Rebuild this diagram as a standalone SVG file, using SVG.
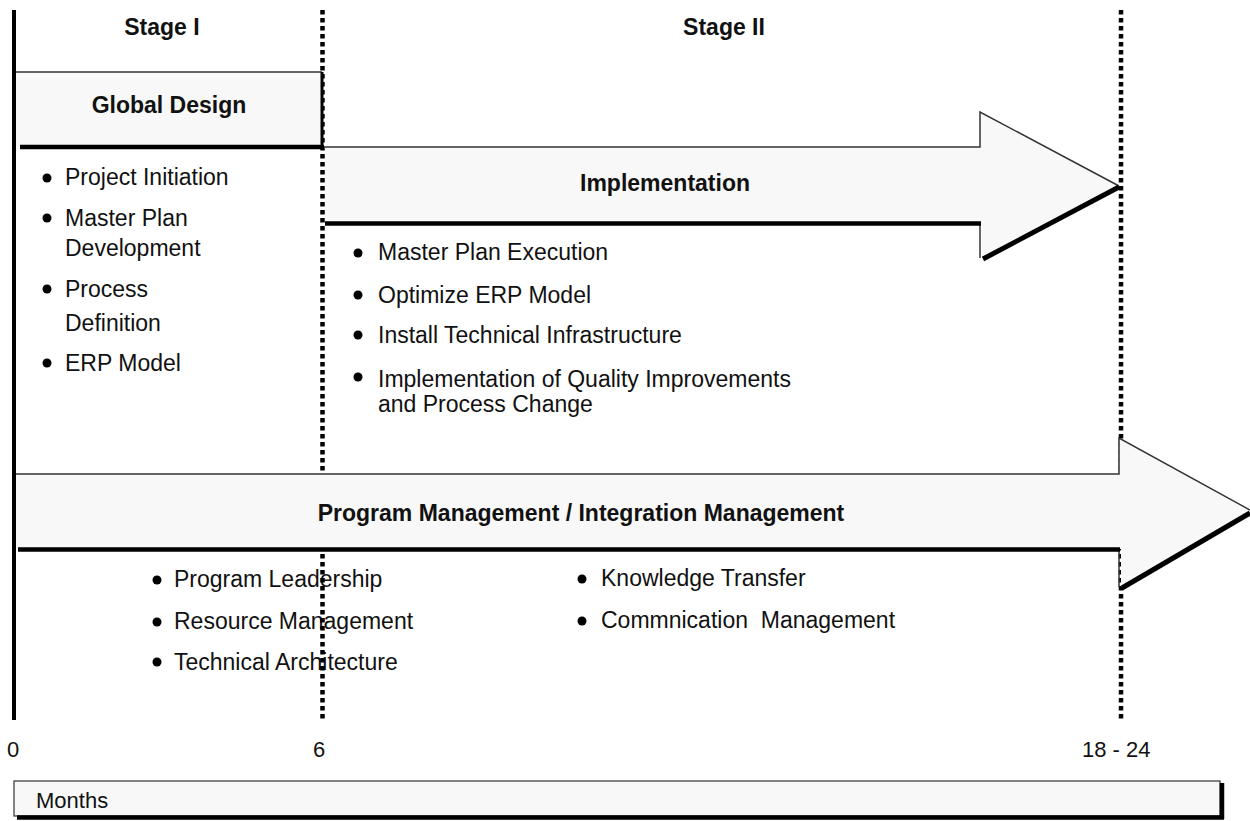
<svg xmlns="http://www.w3.org/2000/svg" width="1250" height="821" viewBox="0 0 1250 821">
  <style>
    .h { font-family: "Liberation Sans", Arial, sans-serif; font-weight: bold; font-size: 23px; fill: #111; }
    .t { font-family: "Liberation Sans", Arial, sans-serif; font-size: 23px; fill: #111; }
    .ax { font-family: "Liberation Sans", Arial, sans-serif; font-size: 22px; fill: #111; }
    .fill { fill: #f8f8f8; stroke: none; }
    .thin { fill: none; stroke: #333; stroke-width: 1.5; }
    .thick { fill: none; stroke: #000; stroke-width: 4.5; }
    .dots { fill: none; stroke: #000; stroke-width: 4.5; stroke-dasharray: 4.5 3.5; }
    .bullet { fill: #000; }
  </style>
  <rect width="1250" height="821" fill="#fff"/>

  <!-- stage headings -->
  <text class="h" x="162" y="35" text-anchor="middle">Stage I</text>
  <text class="h" x="724" y="35" text-anchor="middle">Stage II</text>

  <!-- stage I activities -->
  <g id="stage1-items">
    <circle class="bullet" cx="47" cy="178" r="4.5"/>
    <text class="t" x="65" y="185">Project Initiation</text>
    <circle class="bullet" cx="47" cy="218" r="4.5"/>
    <text class="t" x="65" y="226">Master Plan</text>
    <text class="t" x="65" y="256">Development</text>
    <circle class="bullet" cx="47" cy="289" r="4.5"/>
    <text class="t" x="65" y="297">Process</text>
    <text class="t" x="65" y="331">Definition</text>
    <circle class="bullet" cx="47" cy="363" r="4.5"/>
    <text class="t" x="65" y="371">ERP Model</text>
  </g>

  <!-- stage II activities -->
  <g id="stage2-items">
    <circle class="bullet" cx="358" cy="253" r="4.5"/>
    <text class="t" x="378" y="260">Master Plan Execution</text>
    <circle class="bullet" cx="358" cy="295" r="4.5"/>
    <text class="t" x="378" y="303">Optimize ERP Model</text>
    <circle class="bullet" cx="358" cy="335" r="4.5"/>
    <text class="t" x="378" y="343">Install Technical Infrastructure</text>
    <circle class="bullet" cx="358" cy="377" r="4.5"/>
    <text class="t" x="378" y="387">Implementation of Quality Improvements</text>
    <text class="t" x="378" y="412">and Process Change</text>
  </g>

  <!-- program management activities -->
  <g id="program-items">
    <circle class="bullet" cx="157" cy="580" r="4.5"/>
    <text class="t" x="174" y="587">Program Leadership</text>
    <circle class="bullet" cx="157" cy="622" r="4.5"/>
    <text class="t" x="174" y="629">Resource Management</text>
    <circle class="bullet" cx="157" cy="662" r="4.5"/>
    <text class="t" x="174" y="670">Technical Architecture</text>
    <circle class="bullet" cx="582" cy="579" r="4.5"/>
    <text class="t" x="601" y="586">Knowledge Transfer</text>
    <circle class="bullet" cx="582" cy="621" r="4.5"/>
    <text class="t" x="601" y="628" xml:space="preserve">Commnication  Management</text>
  </g>

  <!-- time axis lines -->
  <g id="connectors">
    <line x1="14" y1="10" x2="14" y2="720" stroke="#000" stroke-width="4"/>
    <line class="dots" x1="322.5" y1="10" x2="322.5" y2="720"/>
    <line class="dots" x1="1121" y1="10" x2="1121" y2="720"/>
  </g>

  <!-- Global Design box -->
  <g id="global-design">
    <rect class="fill" x="16" y="72" width="305" height="75"/>
    <line class="thin" x1="16" y1="72" x2="322" y2="72"/>
    <line class="thick" x1="20" y1="147" x2="324" y2="147"/>
    <line x1="322" y1="72" x2="322" y2="149" stroke="#000" stroke-width="3"/>
    <text class="h" x="169" y="113" text-anchor="middle">Global Design</text>
  </g>

  <!-- Implementation arrow -->
  <g id="implementation">
    <polygon class="fill" points="325,147 980,147 980,112 1119,186 982,258 982,223 325,223"/>
    <polyline class="thin" points="325,147 980,147 980,112 1119,186"/>
    <line class="thin" x1="980" y1="223" x2="980" y2="258"/>
    <line class="thick" x1="325" y1="223.5" x2="981" y2="223.5"/>
    <line x1="983" y1="259" x2="1119" y2="187" stroke="#000" stroke-width="5"/>
    <text class="h" x="665" y="191" text-anchor="middle">Implementation</text>
  </g>

  <!-- Program / Integration Management arrow -->
  <g id="program-management">
    <polygon class="fill" points="16,474 1119,474 1119,438 1250,510 1121,587 1121,549 16,549"/>
    <polyline class="thin" points="16,474 1119,474 1119,438 1250,510"/>
    <line class="thin" x1="1119" y1="549" x2="1119" y2="587"/>
    <line class="thick" x1="18" y1="549.5" x2="1120" y2="549.5"/>
    <line x1="1122" y1="588" x2="1250" y2="513" stroke="#000" stroke-width="5"/>
    <text class="h" x="581" y="521" text-anchor="middle">Program Management / Integration Management</text>
  </g>

  <!-- axis ticks -->
  <g id="axis-labels">
    <text class="ax" x="13" y="757" text-anchor="middle">0</text>
    <text class="ax" x="319" y="757" text-anchor="middle">6</text>
    <text class="ax" x="1082" y="757">18 - 24</text>
  </g>

  <!-- Months bar -->
  <g id="months">
    <rect x="14" y="781" width="1206" height="35" fill="#f8f8f8" stroke="#333" stroke-width="1.2"/>
    <line class="thick" x1="17" y1="817.5" x2="1224" y2="817.5"/>
    <line class="thick" x1="1222" y1="783" x2="1222" y2="819"/>
    <text class="t" x="36" y="808" style="font-size:22px">Months</text>
  </g>
</svg>
